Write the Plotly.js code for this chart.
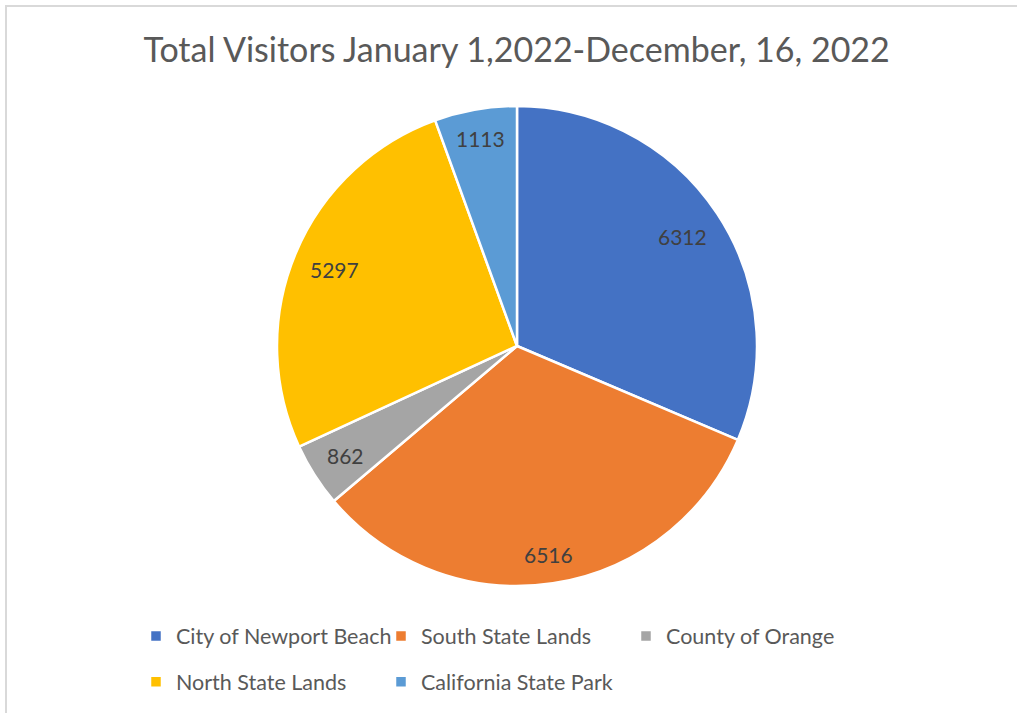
<!DOCTYPE html>
<html>
<head>
<meta charset="utf-8">
<script src="https://cdn.plot.ly/plotly-3.0.1.min.js"></script>
<style>
html,body{margin:0;padding:0;background:#fff;}
#wrap{position:relative;width:1017px;height:713px;overflow:hidden;}
#frame{position:absolute;left:5px;top:5px;width:1100px;height:800px;border-left:2px solid #d9d9d9;border-top:2px solid #d9d9d9;pointer-events:none;}
#chart{position:absolute;left:0;top:0;width:1017px;height:713px;}
</style>
</head>
<body>
<div id="wrap">
<div id="chart"></div>
<div id="frame"></div>
</div>
<script>
var categories = ["City of Newport Beach", "South State Lands", "County of Orange", "North State Lands", "California State Park"];
var visitors = [6312, 6516, 862, 5297, 1113];
var sliceColors = ["#4472C4", "#ED7D31", "#A5A5A5", "#FFC000", "#5B9BD5"];
var chartTitle = "Total Visitors January 1,2022-December, 16, 2022";

var W = 1017, H = 713;
var ML = 0, MR = 60;            // plot area = [0, W-MR]; right margin forces 3 legend items per row
var PW = W - ML - MR, PH = H;
var cx = 517, cy = 346, R = 240;
var FONT = "Lato, 'Liberation Sans', sans-serif";

function px2x(px) { return (px - ML) / PW; }
function py2y(py) { return 1 - py / PH; }

// data labels placed Excel-style: at each slice's mid-angle, pushed toward the rim
var total = visitors.reduce(function (a, b) { return a + b; }, 0);
var cum = 0;
var annotations = visitors.map(function (v) {
  var mid = (cum + v / 2) / total;
  cum += v;
  var th = mid * 2 * Math.PI;
  var s = Math.sin(th), c = Math.cos(th);
  var txt = String(v);
  var hw = txt.length * 5.9 + 3.5, hh = 13;
  var r = 0.95 * R - (hw * Math.abs(s) + hh * Math.abs(c));
  return {
    x: px2x(cx + r * s), y: py2y(cy - r * c),
    xref: "paper", yref: "paper",
    xanchor: "center", yanchor: "middle",
    text: txt, showarrow: false,
    font: {family: FONT, size: 21, color: "#404040"}
  };
});

var trace = {
  type: "pie",
  labels: categories.map(function (c) { return '<span style="font-size:21.5px;baseline-shift:5px">' + c + '</span>'; }),
  values: visitors,
  sort: false,
  direction: "clockwise",
  rotation: 0,
  marker: {colors: sliceColors, line: {color: "#ffffff", width: 2.5}},
  textinfo: "none",
  hoverinfo: "value+percent",
  domain: {x: [px2x(cx - R), px2x(cx + R)], y: [py2y(cy + R), py2y(cy - R)]}
};

var layout = {
  width: W, height: H,
  margin: {l: ML, r: MR, t: 0, b: 0, autoexpand: false},
  paper_bgcolor: "#ffffff",
  font: {family: FONT, color: "#595959"},
  title: {
    text: chartTitle,
    font: {family: FONT, size: 34, color: "#595959"},
    x: 0.508, xanchor: "center", xref: "container",
    y: 1 - 50 / H, yanchor: "middle", yref: "container"
  },
  annotations: annotations,
  showlegend: true,
  legend: {
    orientation: "h",
    x: px2x(136), xanchor: "left",
    y: py2y(608), yanchor: "top",
    entrywidth: 200, entrywidthmode: "pixels",
    itemwidth: 30,
    font: {family: FONT, size: 33, color: "#595959"},
    bgcolor: "rgba(0,0,0,0)"
  }
};

Plotly.newPlot("chart", [trace], layout, {displayModeBar: false, staticPlot: true});
</script>
</body>
</html>
